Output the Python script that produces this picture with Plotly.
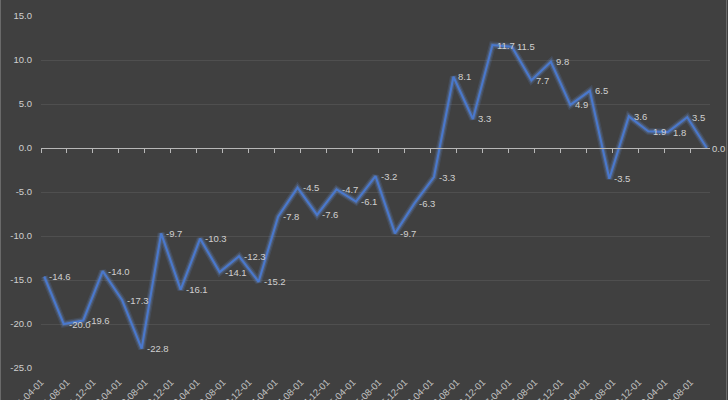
import pandas as pd
import plotly.graph_objects as go

# ---- data ----
dates = pd.date_range("2011-04-01", periods=35, freq="3MS")
values = [-14.6, -20.0, -19.6, -14.0, -17.3, -22.8, -9.7, -16.1, -10.3, -14.1,
          -12.3, -15.2, -7.8, -4.5, -7.6, -4.7, -6.1, -3.2, -9.7, -6.3,
          -3.3, 8.1, 3.3, 11.7, 11.5, 7.7, 9.8, 4.9, 6.5, -3.5,
          3.6, 1.9, 1.8, 3.5, 0.0]
tick_dates = pd.date_range("2011-04-01", "2019-08-01", freq="4MS")
y_ticks = [-25, -20, -15, -10, -5, 0, 5, 10, 15]
y_ticktext = [f"{v:.1f}" for v in y_ticks]

START = pd.Timestamp("2011-04-01")


def month_index(d):
    return (d.year - START.year) * 12 + (d.month - START.month)


x_pts = [month_index(d) + 0.5 for d in dates]
x_ticks = [month_index(d) for d in tick_dates]
x_ticktext = [d.strftime("%Y-%m-%d") for d in tick_dates]
labels = [f"{v:.1f}" for v in values]

BG = "#404040"
W, H = 728, 400
L, R, T, B = 41, 18, 16, 32
XR = [0, 103]
YR = [-25, 15]
FONT = "Liberation Sans, Arial, sans-serif"

fig = go.Figure()

# glow layers (base subplot)
fig.add_trace(go.Scatter(x=x_pts, y=values, mode="lines",
                         line=dict(color="rgba(100,140,215,0.16)", width=7),
                         hoverinfo="skip", showlegend=False))
fig.add_trace(go.Scatter(x=x_pts, y=values, mode="lines",
                         line=dict(color="rgba(110,150,225,0.25)", width=4.5),
                         hoverinfo="skip", showlegend=False))
# main line on overlay axis (drawn on top)
fig.add_trace(go.Scatter(x=x_pts, y=values, mode="lines", xaxis="x2",
                         line=dict(color="#4a78cc", width=2.1),
                         showlegend=False))

# data labels, right of each point
for xv, yv, t in zip(x_pts, values, labels):
    fig.add_annotation(x=xv, y=yv, xref="x2", yref="y", text=t, showarrow=False,
                       xanchor="left", yanchor="middle", xshift=3,
                       font=dict(color="#d0d0d0", size=9.5, family=FONT))

fig.update_layout(
    width=W, height=H,
    margin=dict(l=L, r=R, t=T, b=B, pad=0),
    paper_bgcolor=BG, plot_bgcolor=BG,
    template="none",
    showlegend=False,
    font=dict(family=FONT, color="#cfcfcf", size=9),
    xaxis=dict(range=XR, tickmode="array", tickvals=x_ticks, ticktext=x_ticktext,
               tickangle=-45, showgrid=False, zeroline=False, showline=False,
               ticks="", automargin=False, ticklabelstandoff=6,
               tickfont=dict(size=9.5, color="#c4c4c4")),
    xaxis2=dict(range=XR, overlaying="x", anchor="free", position=(0 - YR[0]) / (YR[1] - YR[0]),
                side="bottom", tickmode="array", tickvals=x_ticks,
                showticklabels=False, ticks="outside", ticklen=4, tickwidth=1,
                tickcolor="#b8b8b8", showline=True, linecolor="#b8b8b8", linewidth=1,
                showgrid=False, zeroline=False, automargin=False),
    yaxis=dict(range=YR, tickmode="array", tickvals=y_ticks, ticktext=y_ticktext,
               showgrid=True, gridcolor="#4f4f4f", gridwidth=1, zeroline=False,
               showline=False, ticks="", automargin=False, ticklabelstandoff=8,
               tickfont=dict(size=9.5, color="#cfcfcf")),
)

# chart-area border (left and right edges)
pw = W - L - R
for px in (0.5, W - 1.5):
    xp = (px - L) / pw
    fig.add_shape(type="line", xref="paper", yref="paper",
                  x0=xp, x1=xp, y0=-1, y1=2,
                  line=dict(color="#6a6a6a", width=1))

fig.write_html("out.html")
